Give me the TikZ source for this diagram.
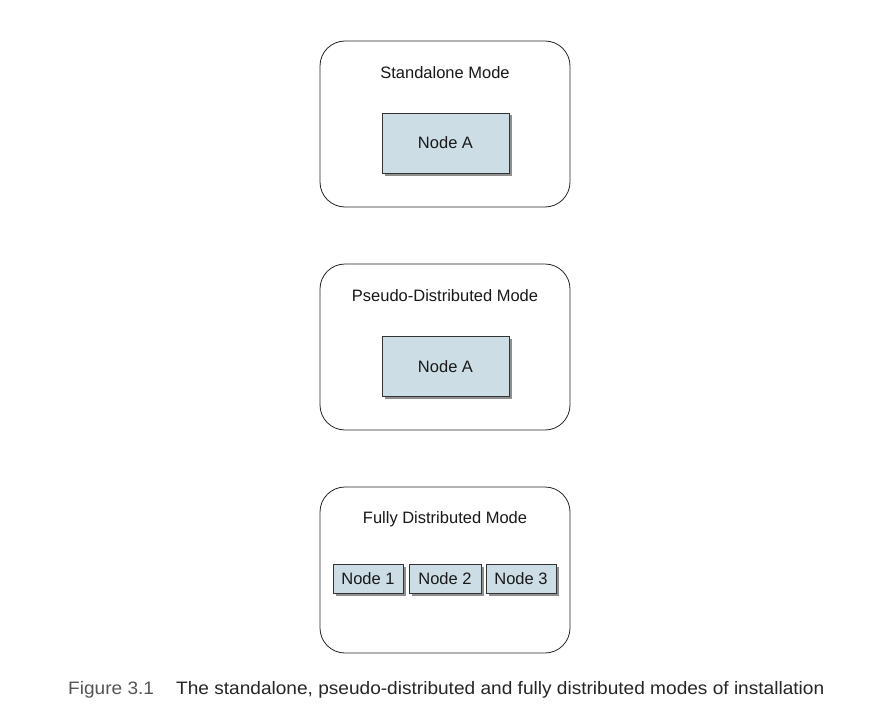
\documentclass[tikz,border=0pt]{standalone}
\usepackage{fontspec}
\setmainfont{Liberation Sans}
\newfontfamily\capfont[FakeStretch=1.06]{Liberation Sans}
\usetikzlibrary{shadows}
\definecolor{nodeblue}{HTML}{CCDDE6}
\definecolor{capgray}{HTML}{555555}
\tikzset{
  modebox/.style={draw=black!85, line width=0.8pt, rounded corners=25pt, fill=white, minimum width=250pt, minimum height=166pt},
  modetitle/.style={font=\fontsize{16.5}{20}\selectfont, text=black!90},
  hostbox/.style={draw=black!80, line width=0.8pt, fill=nodeblue, font=\fontsize{16.5}{20}\selectfont, text=black!90,
    drop shadow={shadow xshift=2.5pt, shadow yshift=-2.5pt, opacity=0.55, fill=black!80}},
}
\begin{document}
\begin{tikzpicture}[x=1pt,y=-1pt]
\useasboundingbox (0,0) rectangle (882,722);
\fill[white] (0,0) rectangle (882,722);
% Standalone
\node[modebox] (m1) at (445,124) {};
\node[modetitle] (t1) at (445,73) {Standalone Mode};
\node[hostbox, minimum width=127pt, minimum height=60pt] (a1) at (445.5,143) {Node A};
% Pseudo
\node[modebox] (m2) at (445,347) {};
\node[modetitle] (t2) at (445,296) {Pseudo-Distributed Mode};
\node[hostbox, minimum width=127pt, minimum height=60pt] (a2) at (445.5,366.5) {Node A};
% Fully
\node[modebox] (m3) at (445,570) {};
\node[modetitle] (t3) at (445,519) {Fully Distributed Mode};
\node[hostbox, minimum width=70pt, minimum height=29pt] (n1) at (368,578.5) {Node 1};
\node[hostbox, minimum width=72pt, minimum height=29pt] (n2) at (445,578.5) {Node 2};
\node[hostbox, minimum width=70pt, minimum height=29pt] (n3) at (521,578.5) {Node 3};
% caption
\node[anchor=base west, inner sep=0pt, text=capgray, font=\capfont\fontsize{18}{20}\selectfont] (fig) at (68,694) {Figure 3.1};
\node[anchor=base west, inner sep=0pt, text=black!85, font=\capfont\fontsize{18}{20}\selectfont] (cap) at (176,694) {The standalone, pseudo-distributed and fully distributed modes of installation};
\end{tikzpicture}
\end{document}
